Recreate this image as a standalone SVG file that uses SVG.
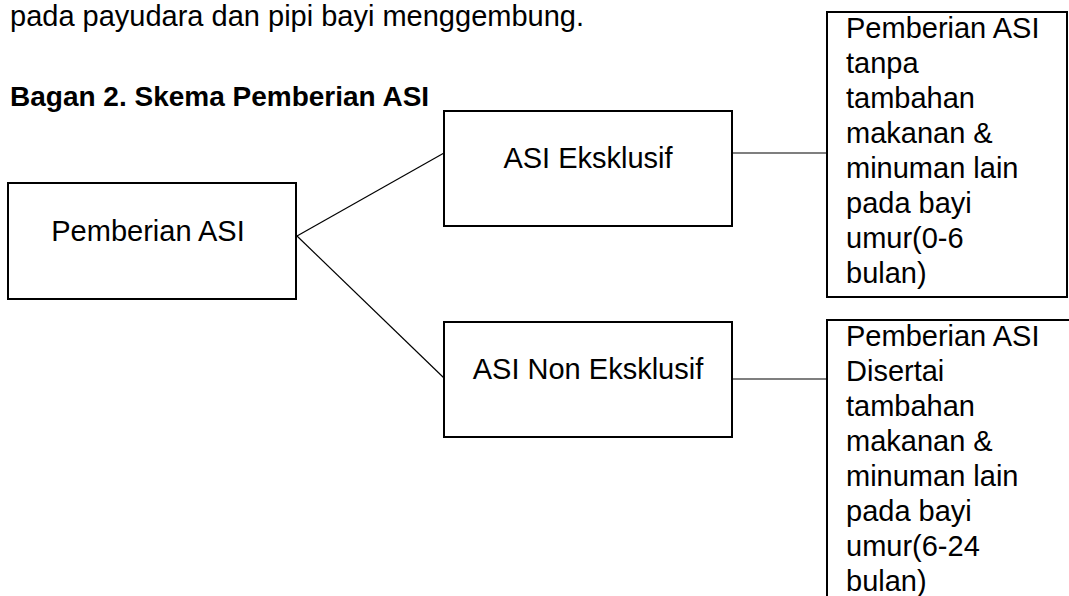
<svg xmlns="http://www.w3.org/2000/svg" width="1069" height="596" viewBox="0 0 1069 596">
<style>
  .box { fill: #ffffff; stroke: #000000; stroke-width: 2; }
  .t { font-family: "Liberation Sans", Arial, sans-serif; font-size: 29px; fill: #000000; }
  .b { font-family: "Liberation Sans", Arial, sans-serif; font-size: 28px; font-weight: bold; fill: #000000; }
  .c { stroke: #000000; stroke-width: 1.2; fill: none; }
</style>
<rect x="0" y="0" width="1069" height="596" fill="#ffffff"/>
<text class="t" x="10" y="26">pada payudara dan pipi bayi menggembung.</text>
<text class="b" x="10" y="106">Bagan 2. Skema Pemberian ASI</text>
<g id="connectors">
  <line class="c" x1="297" y1="236" x2="444" y2="153"/>
  <line class="c" x1="297" y1="236" x2="444" y2="378"/>
  <line class="c" x1="732" y1="153" x2="827" y2="153"/>
  <line class="c" x1="732" y1="379" x2="827" y2="379"/>
</g>
<g id="node-pemberian">
  <rect class="box" x="8" y="183" width="288" height="116"/>
  <text class="t" x="148" y="241" text-anchor="middle">Pemberian ASI</text>
</g>
<g id="node-eksklusif">
  <rect class="box" x="444" y="111" width="288" height="115"/>
  <text class="t" x="588" y="168" text-anchor="middle">ASI Eksklusif</text>
</g>
<g id="node-non-eksklusif">
  <rect class="box" x="444" y="322" width="288" height="115"/>
  <text class="t" x="588" y="379" text-anchor="middle">ASI Non Eksklusif</text>
</g>
<g id="node-desc-eksklusif">
  <rect class="box" x="827" y="12" width="240" height="285"/>
  <text class="t" x="846" y="38">Pemberian ASI</text>
  <text class="t" x="846" y="73">tanpa</text>
  <text class="t" x="846" y="108">tambahan</text>
  <text class="t" x="846" y="143">makanan &amp;</text>
  <text class="t" x="846" y="178">minuman lain</text>
  <text class="t" x="846" y="213">pada bayi</text>
  <text class="t" x="846" y="248">umur(0-6</text>
  <text class="t" x="846" y="283">bulan)</text>
</g>
<g id="node-desc-non-eksklusif">
  <rect class="box" x="827" y="320" width="246" height="300"/>
  <text class="t" x="846" y="346">Pemberian ASI</text>
  <text class="t" x="846" y="381">Disertai</text>
  <text class="t" x="846" y="416">tambahan</text>
  <text class="t" x="846" y="451">makanan &amp;</text>
  <text class="t" x="846" y="486">minuman lain</text>
  <text class="t" x="846" y="521">pada bayi</text>
  <text class="t" x="846" y="556">umur(6-24</text>
  <text class="t" x="846" y="591">bulan)</text>
</g>
</svg>
